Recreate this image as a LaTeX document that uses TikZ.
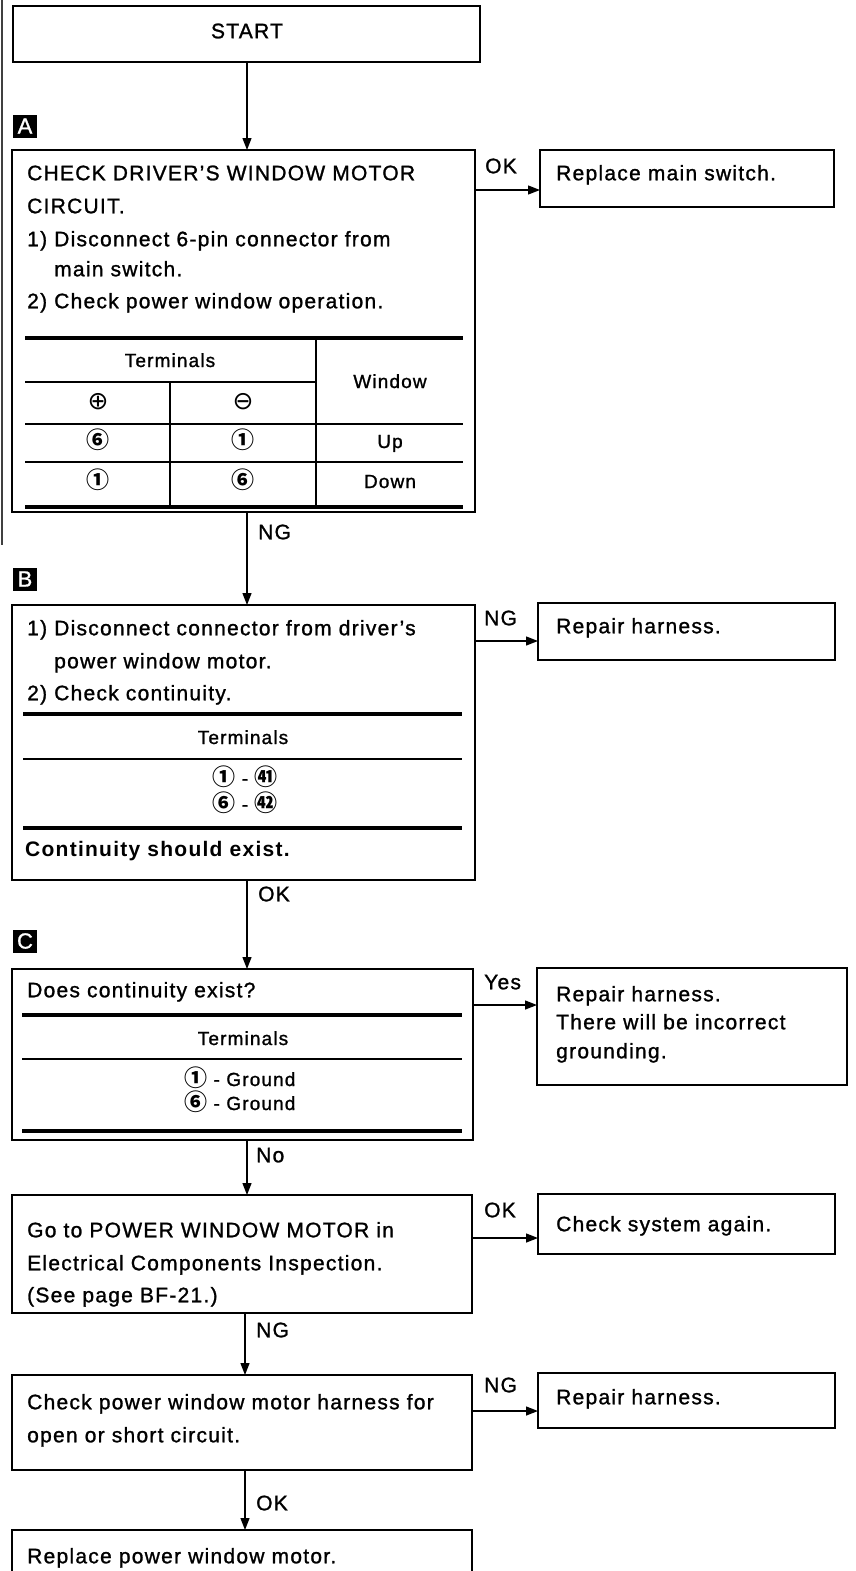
\documentclass[tikz,border=0pt]{standalone}
\usepackage{fontspec}
\setmainfont{Liberation Sans}[LetterSpace=6, UprightFeatures={FakeBold=1.2}]
\newfontfamily\cjk{Noto Sans CJK JP}
\newfontfamily\dvs{DejaVu Sans}
\usetikzlibrary{arrows.meta}
\newcommand\bxn[5]{\node[boxst, anchor=north west, minimum width={(#4)-(#2)}, minimum height={(#5)-(#3)}] (#1) at (#2,#3) {};}
\newcommand\cn[1]{{\fontsize{23}{23}\selectfont\cjk\bfseries #1}}
\tikzset{
  boxst/.style={draw, line width=1.7pt, inner sep=0pt, outer sep=0pt},
  arr/.style={line width=1.3pt, -{Triangle[length=12pt,width=9pt]}},
  txt/.style={inner sep=0pt, anchor=west, font=\fontsize{21}{24}\selectfont, text height=15pt, text depth=4.5pt},
  ctxt/.style={txt, anchor=center},
  tt/.style={inner sep=0pt, anchor=center, font=\fontsize{19}{22}\selectfont, text height=14pt, text depth=4pt},
  lbl/.style={txt, anchor=west},
  tag/.style={fill=black, text=white, inner sep=0pt, minimum width=24pt, minimum height=23pt, font=\fontsize{22}{22}\selectfont},
  thick line/.style={line width=3.6pt},
  thin line/.style={line width=1.8pt}
}
\begin{document}
\begin{tikzpicture}[x=1pt,y=-1pt]
\useasboundingbox (0,0) rectangle (855,1571);
\clip (0,0) rectangle (855,1571);
% scan edge
\draw[line width=2pt, black!75] (2,0) -- (2,545);
% boxes
\bxn{start}{13}{6}{480}{62}
\bxn{A}{12}{150}{475}{512}
\bxn{r1}{540}{150}{834}{207}
\bxn{B}{12}{605}{475}{880}
\bxn{r2}{538}{603}{835}{660}
\bxn{C}{12}{969}{473}{1140}
\bxn{r3}{537}{968}{847}{1085}
\bxn{D}{12}{1195}{472}{1313}
\bxn{r4}{538}{1194}{835}{1254}
\bxn{E}{12}{1375}{472}{1470}
\bxn{r5}{538}{1373}{835}{1428}
\bxn{F}{12}{1530}{472}{1600}
% tags
\node[tag] (tA) at (25,126) {A};
\node[tag] (tB) at (25,579) {B};
\node[tag] (tC) at (25,941) {C};
% START
\node[ctxt] (tstart) at (247,33) {START};
% Box A text
\node[txt] (a1) at (27,175) {CHECK DRIVER'S WINDOW MOTOR};
\node[txt] (a2) at (27,208) {CIRCUIT.};
\node[txt] (a3) at (27,241) {1) Disconnect 6-pin connector from};
\node[txt] (a4) at (27,271) {\hphantom{1) }main switch.};
\node[txt] (a5) at (27,303) {2) Check power window operation.};
% Table A
\draw[thick line] (25,338) -- (463,338);
\draw[thin line] (25,382) -- (316,382);
\draw[thin line] (25,424) -- (463,424);
\draw[thin line] (25,462) -- (463,462);
\draw[thick line] (25,507) -- (463,507);
\draw[thin line] (316,338) -- (316,507);
\draw[thin line] (170,382) -- (170,507);
\node[tt] (ta1) at (170,362) {Terminals};
\node[tt] (ta2) at (390,383) {Window};
\node[tt] (ta3) at (98,404) {{\fontsize{25}{25}\selectfont\dvs ⊕}};
\node[tt] (ta4) at (243,404) {{\fontsize{25}{25}\selectfont\dvs ⊖}};
\node[tt] (ta5) at (98,443) {\cn{⑥}};
\node[tt] (ta6) at (243,443) {\cn{①}};
\node[tt] (ta7) at (390,443) {Up};
\node[tt] (ta8) at (98,483) {\cn{①}};
\node[tt] (ta9) at (243,483) {\cn{⑥}};
\node[tt] (ta10) at (390,483) {Down};
% Box B text
\node[txt] (b1) at (27,630) {1) Disconnect connector from driver's};
\node[txt] (b2) at (27,663) {\hphantom{1) }power window motor.};
\node[txt] (b3) at (27,695) {2) Check continuity.};
\draw[thick line] (23,714) -- (462,714);
\node[tt] (tb1) at (243,739) {Terminals};
\draw[thin line] (23,759) -- (462,759);
\node[tt] (tb2) at (245,780) {\cn{①} - \cn{㊶}};
\node[tt] (tb3) at (245,806) {\cn{⑥} - \cn{㊷}};
\draw[thick line] (23,828) -- (462,828);
\node[txt] (b4) at (25,851) {\bfseries Continuity should exist.};
% Box C text
\node[txt] (c1) at (27,992) {Does continuity exist?};
\draw[thick line] (22,1015) -- (462,1015);
\node[tt] (tc1) at (243,1040) {Terminals};
\draw[thin line] (22,1059) -- (462,1059);
\node[tt, anchor=west] (tc2) at (184,1081) {\cn{①} - Ground};
\node[tt, anchor=west] (tc3) at (184,1105) {\cn{⑥} - Ground};
\draw[thick line] (22,1131) -- (462,1131);
% Box D text
\node[txt] (d1) at (27,1232) {Go to POWER WINDOW MOTOR in};
\node[txt] (d2) at (27,1265) {Electrical Components Inspection.};
\node[txt] (d3) at (27,1297) {(See page BF-21.)};
% Box E text
\node[txt] (e1) at (27,1404) {Check power window motor harness for};
\node[txt] (e2) at (27,1437) {open or short circuit.};
% Box F text
\node[txt] (f1) at (27,1558) {Replace power window motor.};
% right boxes text
\node[txt] (r1t) at (556,175) {Replace main switch.};
\node[txt] (r2t) at (556,628) {Repair harness.};
\node[txt] (r3t1) at (556,996) {Repair harness.};
\node[txt] (r3t2) at (556,1024) {There will be incorrect};
\node[txt] (r3t3) at (556,1053) {grounding.};
\node[txt] (r4t) at (556,1226) {Check system again.};
\node[txt] (r5t) at (556,1399) {Repair harness.};
% vertical connectors
\coordinate (vx) at (247,0);
\coordinate (vx2) at (245,0);
\draw[arr] (start.south -| vx) -- (A.north -| vx);
\draw[arr] (A.south -| vx) -- (B.north -| vx);
\draw[arr] (B.south -| vx) -- (C.north -| vx);
\draw[arr] (C.south -| vx) -- (D.north -| vx);
\draw[arr] (D.south -| vx2) -- (E.north -| vx2);
\draw[arr] (E.south -| vx2) -- (F.north -| vx2);
\node[lbl] (l1) at (258,534) {NG};
\node[lbl] (l2) at (258,896) {OK};
\node[lbl] (l3) at (256,1157) {No};
\node[lbl] (l4) at (256,1332) {NG};
\node[lbl] (l5) at (256,1505) {OK};
% horizontal connectors
\coordinate (h1) at (0,190);
\coordinate (h2) at (0,641);
\coordinate (h3) at (0,1005);
\coordinate (h4) at (0,1238);
\coordinate (h5) at (0,1411);
\draw[arr] (A.east |- h1) -- (r1.west |- h1);
\draw[arr] (B.east |- h2) -- (r2.west |- h2);
\draw[arr] (C.east |- h3) -- (r3.west |- h3);
\draw[arr] (D.east |- h4) -- (r4.west |- h4);
\draw[arr] (E.east |- h5) -- (r5.west |- h5);
\node[lbl] (m1) at (485,168) {OK};
\node[lbl] (m2) at (484,620) {NG};
\node[lbl] (m3) at (484,984) {Yes};
\node[lbl] (m4) at (484,1212) {OK};
\node[lbl] (m5) at (484,1387) {NG};
\end{tikzpicture}
\end{document}
